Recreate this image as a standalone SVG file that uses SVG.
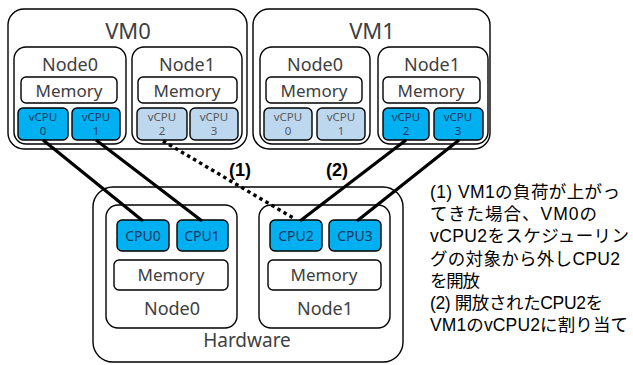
<svg xmlns="http://www.w3.org/2000/svg" width="633" height="365" viewBox="0 0 633 365">
<style>
.box{fill:#fff;stroke:#000;stroke-width:1.4}
.on{fill:#00B0F0;stroke:#000;stroke-width:1.4}
.off{fill:#BDD7EE;stroke:#000;stroke-width:1.4}
.t{font-family:"Noto Sans","Noto Sans CJK JP",sans-serif;fill:#404040;text-anchor:middle}
.vm{font-size:22px}
.nd{font-size:18px}
.mem{font-size:17px}
.vc{font-size:11.5px;fill:#1F3864}
.vcoff{font-size:11.5px;fill:#595959}
.cpu{font-size:14px;fill:#1F3864}
.lbl{font-family:"Liberation Sans","Noto Sans CJK JP",sans-serif;font-weight:bold;font-size:18px;fill:#000;text-anchor:middle}
.note{font-family:"Liberation Sans","Noto Sans CJK JP",sans-serif;font-size:17.5px;fill:#000}
.ln{stroke:#000;stroke-width:3.2;fill:none}
.dot{stroke:#000;stroke-width:3.4;fill:none;stroke-dasharray:3.5 3.5}
</style>

<g id="vm0">
<rect class="box" x="8" y="9" width="239" height="140" rx="16"/>
<text class="t vm" x="128" y="39">VM0</text>
<g id="vm0-node0">
<rect class="box" x="14" y="47" width="112" height="97" rx="12"/>
<text class="t nd" x="70" y="71">Node0</text>
<rect class="box" x="21" y="77" width="96" height="26" rx="5"/>
<text class="t mem" x="69" y="97">Memory</text>
<g id="vm0-vcpu0"><rect class="on" x="18" y="108" width="50" height="32" rx="5"/><text class="t vc" x="43" y="121">vCPU</text><text class="t vc" x="43" y="135">0</text></g>
<g id="vm0-vcpu1"><rect class="on" x="72" y="108" width="48" height="32" rx="5"/><text class="t vc" x="96" y="121">vCPU</text><text class="t vc" x="96" y="135">1</text></g>
</g>
<g id="vm0-node1">
<rect class="box" x="132" y="47" width="110" height="97" rx="12"/>
<text class="t nd" x="187" y="71">Node1</text>
<rect class="box" x="138" y="77" width="99" height="26" rx="5"/>
<text class="t mem" x="187" y="97">Memory</text>
<g id="vm0-vcpu2"><rect class="off" x="137" y="108" width="50" height="32" rx="5"/><text class="t vcoff" x="162" y="121">vCPU</text><text class="t vcoff" x="162" y="135">2</text></g>
<g id="vm0-vcpu3"><rect class="off" x="190" y="108" width="48" height="32" rx="5"/><text class="t vcoff" x="214" y="121">vCPU</text><text class="t vcoff" x="214" y="135">3</text></g>
</g>
</g>

<g id="vm1">
<rect class="box" x="253" y="9" width="237" height="140" rx="16"/>
<text class="t vm" x="372" y="39">VM1</text>
<g id="vm1-node0">
<rect class="box" x="260" y="47" width="110" height="97" rx="12"/>
<text class="t nd" x="315" y="71">Node0</text>
<rect class="box" x="266" y="77" width="96" height="26" rx="5"/>
<text class="t mem" x="314" y="97">Memory</text>
<g id="vm1-vcpu0"><rect class="off" x="264" y="108" width="48" height="32" rx="5"/><text class="t vcoff" x="288" y="121">vCPU</text><text class="t vcoff" x="288" y="135">0</text></g>
<g id="vm1-vcpu1"><rect class="off" x="317" y="108" width="48" height="32" rx="5"/><text class="t vcoff" x="341" y="121">vCPU</text><text class="t vcoff" x="341" y="135">1</text></g>
</g>
<g id="vm1-node1">
<rect class="box" x="378" y="47" width="110" height="97" rx="12"/>
<text class="t nd" x="432" y="71">Node1</text>
<rect class="box" x="383" y="77" width="97" height="26" rx="5"/>
<text class="t mem" x="431" y="97">Memory</text>
<g id="vm1-vcpu2"><rect class="on" x="383" y="108" width="46" height="32" rx="5"/><text class="t vc" x="406" y="121">vCPU</text><text class="t vc" x="406" y="135">2</text></g>
<g id="vm1-vcpu3"><rect class="on" x="434" y="108" width="49" height="32" rx="5"/><text class="t vc" x="458" y="121">vCPU</text><text class="t vc" x="458" y="135">3</text></g>
</g>
</g>

<g id="hardware">
<rect class="box" x="93" y="187" width="310" height="175" rx="20"/>
<text class="t" style="font-size:19px" x="247" y="347">Hardware</text>
<g id="hw-node0">
<rect class="box" x="106" y="205" width="131" height="123" rx="12"/>
<g id="cpu0"><rect class="on" x="117" y="220" width="52" height="31" rx="5"/><text class="t cpu" x="143" y="241">CPU0</text></g>
<g id="cpu1"><rect class="on" x="177" y="220" width="51" height="31" rx="5"/><text class="t cpu" x="202" y="241">CPU1</text></g>
<rect class="box" x="114" y="260" width="114" height="30" rx="5"/>
<text class="t mem" x="171" y="281">Memory</text>
<text class="t nd" x="172" y="315">Node0</text>
</g>
<g id="hw-node1">
<rect class="box" x="259" y="205" width="131" height="123" rx="12"/>
<g id="cpu2"><rect class="on" x="270" y="220" width="52" height="31" rx="5"/><text class="t cpu" x="296" y="241">CPU2</text></g>
<g id="cpu3"><rect class="on" x="329" y="220" width="52" height="31" rx="5"/><text class="t cpu" x="355" y="241">CPU3</text></g>
<rect class="box" x="268" y="260" width="113" height="30" rx="5"/>
<text class="t mem" x="324" y="281">Memory</text>
<text class="t nd" x="325" y="315">Node1</text>
</g>
</g>

<g id="connectors">
<line class="ln" x1="43" y1="140" x2="143" y2="221"/>
<line class="ln" x1="96" y1="140" x2="202" y2="221"/>
<line class="dot" x1="163" y1="141" x2="295" y2="219"/>
<line class="ln" x1="406" y1="140" x2="300" y2="221"/>
<line class="ln" x1="459" y1="140" x2="357" y2="221"/>
<text class="lbl" x="240" y="176">(1)</text>
<text class="lbl" x="337" y="176">(2)</text>
</g>

<g id="note">
<text class="note" x="430" y="198" textLength="190" lengthAdjust="spacing">(1) VM1の負荷が上がっ</text>
<text class="note" x="430" y="220" textLength="167" lengthAdjust="spacing">てきた場合、VM0の</text>
<text class="note" x="430" y="242" textLength="199" lengthAdjust="spacing">vCPU2をスケジューリン</text>
<text class="note" x="430" y="265" textLength="190" lengthAdjust="spacing">グの対象から外しCPU2</text>
<text class="note" x="430" y="287" textLength="50" lengthAdjust="spacing">を開放</text>
<text class="note" x="430" y="309" textLength="173" lengthAdjust="spacing">(2) 開放されたCPU2を</text>
<text class="note" x="430" y="331" textLength="198" lengthAdjust="spacing">VM1のvCPU2に割り当て</text>
</g>
</svg>
